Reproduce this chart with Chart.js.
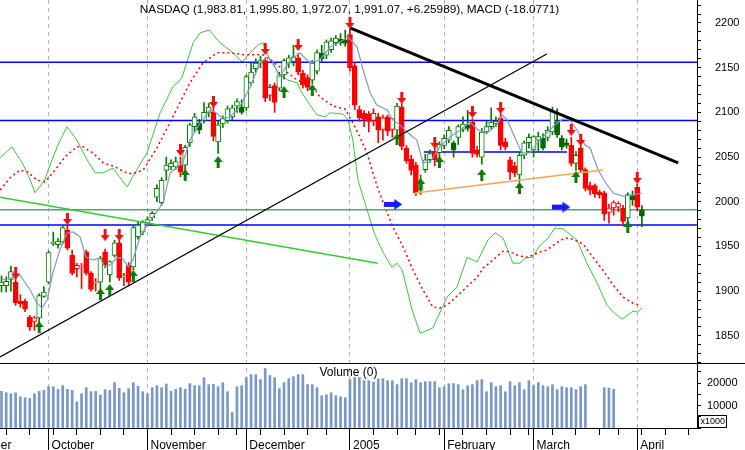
<!DOCTYPE html>
<html>
<head>
<meta charset="utf-8">
<title>NASDAQ</title>
<script src="https://cdn.jsdelivr.net/npm/chart.js@4/dist/chart.umd.min.js"></script>
<style>
  html, body { margin: 0; padding: 0; background: #fff; }
  #chart { display: block; }
</style>
</head>
<body>
<canvas id="chart" width="745" height="450"></canvas>
<script>
// x axis: one step per trading day, day 0 = Sep 17 2004
const monthLabels = ["September", "October", "November", "December", "2005", "February", "March", "April"];
const monthStarts = [-11, 10, 31, 52, 74, 94, 113, 135];
const weekStarts = [1, 6, 11, 16, 21, 26, 31, 36, 41, 46, 50, 55, 60, 65, 69, 74, 79, 84, 88, 93, 98, 103, 108, 112, 117, 122, 127, 131, 136, 141, 146];
const priceLabels = [1850, 1900, 1950, 2000, 2050, 2100, 2150, 2200];
const volumeLabels = [10000, 20000];

// daily candles
const opens = [
  1906, 1906, 1913, 1910, 1889, 1889, 1871, 1870, 1870, 1894,
  1910, 1953, 1952, 1955, 1968, 1940, 1929, 1928, 1944, 1920,
  1910.5, 1910, 1944, 1918, 1940, 1954, 1917, 1929, 1927, 1961,
  1966, 1976, 1982, 2005, 1999, 2035, 2039, 2039, 2041, 2041,
  2066, 2084, 2080, 2091, 2100, 2100, 2067, 2087, 2091, 2095,
  2107, 2100, 2105, 2133, 2149, 2155, 2158, 2128, 2130, 2127,
  2142, 2155, 2157, 2161, 2144, 2139, 2136, 2146, 2160, 2164,
  2170, 2178, 2178, 2177, 2187, 2152, 2103, 2099, 2098, 2099,
  2095, 2094, 2095, 2093, 2080, 2106, 2060, 2048, 2041, 2013,
  2036, 2047, 2056, 2055, 2063, 2069, 2058, 2072, 2081, 2082,
  2089, 2058, 2050, 2078, 2084, 2087, 2094, 2067, 2047, 2040,
  2030, 2052, 2066, 2058, 2069, 2060, 2072, 2078, 2075, 2061,
  2063, 2063, 2043, 2060, 2036, 2018, 2018, 2011, 2010, 1993,
  1999, 1998, 1993, 1982, 2002, 2016, 1983.81
];
const highs = [
  1917, 1916, 1928, 1916, 1896, 1891, 1873, 1872, 1897, 1905,
  1945, 1966, 1959, 1973, 1974, 1946, 1931, 1931, 1946, 1922,
  1914, 1939, 1947, 1934, 1957, 1957, 1920, 1932, 1973, 1977,
  1979, 1983, 1989, 2019, 2027, 2050, 2047, 2050, 2050, 2063,
  2088, 2099, 2092, 2111, 2110, 2106, 2090, 2096, 2107, 2108,
  2115, 2114, 2142, 2155, 2160, 2163, 2161, 2131, 2133, 2145,
  2160, 2164, 2175, 2166, 2147, 2142, 2158, 2170, 2175, 2181,
  2183, 2186, 2188, 2192, 2193, 2156, 2107, 2102, 2101, 2104,
  2099, 2097, 2097, 2093, 2110, 2110, 2063, 2052, 2044, 2030,
  2053, 2058, 2062, 2067, 2075, 2084, 2068, 2086, 2095, 2102,
  2093, 2062, 2082, 2090, 2105, 2095, 2099, 2071, 2050, 2044,
  2056, 2068, 2076, 2074, 2078, 2076, 2084, 2106, 2104, 2074,
  2070, 2072, 2056, 2063, 2038, 2022, 2020, 2013, 2012, 1997,
  2001, 2000, 1996, 2010, 2012, 2020, 1995.80
];
const lows = [
  1899, 1899, 1900, 1884, 1882, 1877, 1856, 1856, 1862, 1893,
  1908, 1951, 1948, 1953, 1946, 1918, 1916, 1903, 1918, 1900,
  1900, 1902, 1926, 1910, 1938, 1912, 1906, 1906, 1924, 1958,
  1963, 1974, 1979, 2000, 1996, 2024, 2036, 2036, 2028, 2033,
  2062, 2078, 2076, 2088, 2095, 2068, 2054, 2083, 2088, 2092,
  2100, 2098, 2102, 2130, 2145, 2150, 2112, 2113, 2100, 2124,
  2137, 2150, 2152, 2142, 2127, 2124, 2132, 2143, 2157, 2160,
  2167, 2175, 2175, 2174, 2146, 2103, 2090, 2084, 2078, 2085,
  2066, 2069, 2074, 2072, 2076, 2058, 2043, 2030, 2007, 2008,
  2033, 2044, 2040, 2047, 2059, 2066, 2050, 2064, 2078, 2079,
  2050, 2050, 2042, 2076, 2081, 2084, 2058, 2058, 2025, 2028,
  2022, 2048, 2060, 2050, 2055, 2058, 2068, 2075, 2072, 2058,
  2060, 2040, 2035, 2033, 2012, 2008, 2005, 2004, 1979, 1976,
  1985, 1989, 1974, 1976, 1996, 1990, 1972.07
];
const closes = [
  1910, 1911, 1922, 1887, 1886, 1880, 1860, 1866, 1895, 1899,
  1943, 1955, 1956, 1971, 1948, 1920, 1925, 1927, 1920, 1902,
  1909, 1937, 1929, 1933, 1954, 1915, 1916, 1910, 1971, 1974,
  1977, 1980, 1987, 2015, 2024, 2041, 2043, 2045, 2033, 2061,
  2086, 2095, 2088, 2100, 2106, 2073, 2086, 2093, 2104, 2105,
  2112, 2106, 2140, 2145, 2155, 2158, 2116, 2119, 2111, 2142,
  2158, 2161, 2162, 2145, 2131, 2128, 2155, 2167, 2166, 2179,
  2180, 2183, 2182, 2181, 2150, 2108, 2094, 2092, 2090, 2091,
  2080, 2081, 2079, 2081, 2107, 2062, 2046, 2035, 2010, 2022,
  2047, 2054, 2047, 2064, 2071, 2080, 2066, 2084, 2087, 2086,
  2054, 2053, 2078, 2084, 2089, 2090, 2063, 2061, 2033, 2032,
  2052, 2066, 2072, 2073, 2073, 2071, 2080, 2101, 2089, 2071,
  2066, 2043, 2052, 2036, 2015, 2013, 2009, 2008, 1986, 1988,
  1993, 1994, 1978, 2008, 2007, 1994, 1991.07
];
const lastChange = 6.25989;

// volume in thousands (missing days left empty)
const volumes = [
  16270, 15680, 15230, 15680, 13880, 13440, 13140, 15230, 16270, 16720,
  18360, 18360, 17170, 18810, 17170, 16720, 11650, 15230, 17920, 16120,
  16270, 14630, 17020, 16720, 20160, 17620, 15680, 17470, 20160, 18510,
  16120, 15230, 17920, 18810, 17920, 19560, 16270, 17170, 17920, 17170,
  19710, 18810, 18810, 22400, 19260, 19410, 18360, 20160, 16120, 6870,
  18360, 18810, 22400, 23740, 23740, 21500, 26430, 23290, 22400, 17470,
  20160, 21950, 22840, 23740, 23740, 19260, 19260, 17920, 14330, 14780,
  15680, 14330, 13880, 13440, 21500, 22400, 22400, 21050, 21050, 20300,
  21800, 21950, 21050, 21050, 19260, 21950, 21950, 20160, 21500, 20160,
  20600, 20600, 20600, 17920, 18360, 19710, 19710, 19260, 17020, 18810,
  19260, 21050, 21500, 16120, 20160, 18360, 18810, 16120, 20600, 18810,
  20160, 17020, 21050, 18810, 20160, 18810, 18360, 19260, 17020, 18360,
  17920, 17920, 17020, 18360, 19260, null, null, null, 17920, 17770,
  17170, null, null, null, null, null, null
];

// short moving average of the close, read as [day, price]
const avgLine = [
  [0, 1912.5], [1.8, 1914.7], [3.9, 1918.1], [6.1, 1901.3], [7.5, 1886.8], [8.6, 1881.2], [9.7, 1890.1],
  [10.9, 1920.3], [12.4, 1946.1], [13.9, 1965.1], [15.2, 1966.2], [16.7, 1960.6], [17.9, 1938.2],
  [19.4, 1934.9], [20.9, 1937.1], [22, 1927], [23, 1929.3], [24.5, 1937.1], [25.6, 1937.1], [26.9, 1927],
  [27.9, 1934.9], [29.4, 1960.6], [30.9, 1974], [32.2, 1983], [34.3, 1998.6], [35.8, 2032.2], [37.3, 2038.9],
  [38.5, 2043.4], [40, 2069.1], [42.2, 2088.1], [44.3, 2102.7], [45.3, 2100.4], [47, 2093.7], [48.5, 2094.8],
  [50.6, 2106], [52.8, 2128.4], [54.9, 2155.2], [56.4, 2161.9], [57.4, 2158.6], [59.1, 2139.6], [61.3, 2158.6],
  [63.4, 2166.4], [65.5, 2155.2], [67.6, 2158.6], [69.8, 2173.1], [71.9, 2178.7], [73.6, 2184.3], [75.5, 2173.1],
  [76.8, 2147.4], [78.3, 2121.7], [79.7, 2108.2], [81.9, 2102.6], [83.1, 2091.5], [84.6, 2086], [86.1, 2078],
  [88.2, 2069.1], [89.5, 2043.4], [91, 2044.5], [93.1, 2061.3], [95.2, 2072.5], [97.4, 2080.3], [99.5, 2089.2],
  [101.2, 2080.3], [103.1, 2076.9], [105.2, 2085.9], [106.3, 2097.1], [107.4, 2091.5], [108.6, 2076.9],
  [110.5, 2054.6], [112.2, 2054.6], [113.7, 2065.7], [115.8, 2076.9], [117.5, 2085.9], [119.2, 2092.6],
  [120.7, 2091.5], [122.2, 2080.3], [123.9, 2063.5], [125, 2060.1], [126.7, 2035.5], [128.2, 2022.1],
  [129.9, 2009.8], [132, 2006.4], [134.1, 2007.6], [136, 2009.8]
];

// MACD and its signal line, own hidden scale, read as [day, value]
const macdLine = [
  [-0.3, 19.5], [2.2, 22.3], [4.4, 18.3], [6.1, 14], [7.1, 10.8], [9.2, 14], [9.9, 16.5], [12, 22.8], [13.9, 27.3],
  [16, 24], [18.2, 19], [19.9, 15.8], [21.6, 15.8], [23.7, 17], [25.2, 14.5], [26.7, 12.3], [27.7, 14.5],
  [30.9, 20.8], [33.7, 30.8], [36.4, 37.3], [38.3, 39.5], [40.7, 48.3], [42.2, 50.8], [44.1, 51.5], [46.4, 48.3],
  [49.2, 45.8], [51.1, 43.5], [52.8, 45.8], [54.5, 47.8], [55.5, 48.3], [57, 44], [59.1, 40.3], [60.8, 39],
  [62.8, 38.3], [63.8, 35.8], [65.5, 32.8], [67, 30.3], [68.7, 29.8], [69.8, 30.8], [72.5, 30.5], [73.6, 29],
  [74.6, 24], [75.7, 14], [78.3, 4], [79.3, 0.3], [81, -4], [82.9, -7.8], [84, -6.8], [85.1, -8.5], [87.2, -18.5],
  [88.9, -24.3], [91.6, -23], [94.6, -15.3], [96.7, -12.8], [98.9, -5.3], [101, -6.5], [103.3, -1], [104.8, 0.8],
  [106.5, -0.5], [108.6, -6.8], [110.1, -6.8], [111.2, -5.5], [112.7, -5.3], [114.4, -2.3], [116.1, -0.5],
  [117.5, 2], [119.2, 1.8], [120.3, 0.8], [122.2, -1], [124.3, -6.8], [126.5, -11.8], [128.6, -17.3],
  [129.9, -19], [131.8, -20.8], [134.1, -18.8], [135, -19], [136, -18.0771]
];
const signalLine = [
  [-0.3, 11.5], [1.8, 14.5], [3.9, 16.5], [5.6, 16], [7.5, 14], [9.2, 13.5], [11.4, 16.5], [13.5, 19.8],
  [16, 22.3], [17.3, 22.3], [19.4, 20.8], [21.6, 18.3], [24.1, 17.3], [26.2, 16], [27.7, 15.5], [30.1, 16.5],
  [33, 22], [36.4, 29.8], [40, 38.3], [42.8, 43.3], [45.8, 45.8], [48.5, 45.8], [51.7, 45.3], [55.5, 45.3],
  [59.1, 42.3], [62.8, 39], [66.2, 37.3], [67.6, 34.8], [70.4, 32.5], [72.9, 31.8], [74.6, 28.3], [76.1, 24.8],
  [77.6, 20.8], [78.7, 16.5], [79.9, 12], [81.4, 7.3], [83.1, 2.3], [85.3, -2.8], [87.4, -8.5], [89.5, -13.5],
  [91.6, -17.8], [93.1, -18], [94.6, -17.3], [97.4, -14.3], [101, -10.3], [102.3, -8], [104.4, -6],
  [106.5, -3.8], [108, -4], [110.1, -5], [111.8, -5.3], [113.7, -4.3], [115.8, -3.5], [118.2, -1.5],
  [119.7, -0.5], [121.4, -0.8], [123.5, -2], [125.6, -5.3], [127.7, -8.5], [129.9, -12.3], [132, -15.3],
  [134.1, -16.8], [135.6, -17.3]
];

// drawn levels and trend lines, [day, price]
const levels = [2156, 2091, 1974];
const boxLevel = [[89.7, 2055.7], [120.1, 2055.7]];
const trendDown = [[74, 2194.4], [143.7, 2043.4]];
const trendUp = [[-0.32, 1826.4], [115.8, 2165.3]];
const fanLine = [[-0.32, 2005], [79.9, 1931.2]];
const orangeLine = [[87.8, 2009.8], [127.7, 2035.5]];

// signal arrows, [day, price]
const sellMarks = [[3, 1919.8], [14, 1980.7], [22, 1962.6], [25, 1962.8], [38, 2057.9], [45, 2111.6], [56, 2170.9], [63, 2175.4],
  [74, 2200], [85, 2116.1], [92, 2066], [100, 2100.4], [106, 2104.9], [121, 2080.3], [123, 2069.1], [135, 2026.6]];
const buyMarks = [[8, 1859.9], [21, 1896.8], [23, 1901.3], [28, 1917], [39, 2030], [46, 2044.5], [60, 2122.8], [66, 2125],
  [84, 2070.2], [89, 2019.9], [93, 2044.5], [102, 2030], [110, 2015.4], [122, 2027.7], [133, 1971.8]];
const pointMarks = [[83.2, 1997], [118.9, 1994]];

// ---- styling ----
Chart.defaults.font.family = '"Liberation Sans", Arial, sans-serif';
Chart.defaults.color = "#000";

const GREEN = "#008000";
const DARK_GREEN = "#006a00";
const RED = "#ff0000";

const last = closes.length - 1;
const days = closes.map((c, i) => i);
const pts = (list) => list.map(([x, y]) => ({ x, y }));

// colour from close vs open, hollow when the close is not below the previous close
const isUp = (i) => closes[i] >= opens[i];
const isHollow = (i) => i === 0 || closes[i] >= closes[i - 1];
const edgeColor = (i) => (isUp(i) ? (isHollow(i) ? GREEN : DARK_GREEN) : RED);
const bodyColor = (i) => (isHollow(i) ? "#ffffff" : edgeColor(i));

const makeArrow = (dir, color) => {
  const c = document.createElement("canvas");
  const g = c.getContext("2d");
  c.width = dir === "right" ? 18 : 9;
  c.height = dir === "right" ? 11 : 12;
  g.fillStyle = color;
  g.beginPath();
  if (dir === "down") {
    g.moveTo(3, 0); g.lineTo(6, 0); g.lineTo(6, 6); g.lineTo(9, 6);
    g.lineTo(4.5, 12); g.lineTo(0, 6); g.lineTo(3, 6);
  } else if (dir === "up") {
    g.moveTo(4.5, 0); g.lineTo(9, 6); g.lineTo(6, 6); g.lineTo(6, 12);
    g.lineTo(3, 12); g.lineTo(3, 6); g.lineTo(0, 6);
  } else {
    g.moveTo(0, 3); g.lineTo(10, 3); g.lineTo(10, 0); g.lineTo(18, 5.5);
    g.lineTo(10, 11); g.lineTo(10, 8); g.lineTo(0, 8);
  }
  g.closePath();
  g.fill();
  return c;
};

const fmt = (v) => v.toLocaleString("en-US", { minimumFractionDigits: 2, maximumFractionDigits: 2 });
const titleText = `NASDAQ (${fmt(opens[last])}, ${fmt(highs[last])}, ${fmt(lows[last])}, ${fmt(closes[last])}, +${lastChange}), MACD (${macdLine[macdLine.length - 1][1]})`;

const lineSet = (data, color, width, order, extra) => Object.assign({
  type: "line", data, borderColor: color, borderWidth: width, pointRadius: 0,
  tension: 0, xAxisID: "x", yAxisID: "y", order,
}, extra || {});

const markSet = (data, img) => ({
  type: "line", data: pts(data), showLine: false, pointStyle: img, pointRadius: 5,
  xAxisID: "x", yAxisID: "y", order: 1,
});

// tick positions every n units between a and b
const tickRange = (a, b, n) => {
  const out = [];
  for (let v = a; v <= b; v += n) out.push({ value: v });
  return out;
};

// titles, panel separator and the x1000 box
const overlay = {
  id: "overlay",
  afterDraw(chart) {
    const { ctx, chartArea } = chart;
    const vol = chart.scales.yVol;
    const mid = (chartArea.left + chartArea.right) / 2;
    ctx.save();
    ctx.strokeStyle = "#000";
    ctx.lineWidth = 1;
    ctx.beginPath();
    ctx.moveTo(0, Math.round(vol.top) + 0.5);
    ctx.lineTo(chart.width, Math.round(vol.top) + 0.5);
    ctx.stroke();

    ctx.fillStyle = "#000";
    ctx.textAlign = "center";
    ctx.textBaseline = "middle";
    ctx.font = '11.8px "Liberation Sans", Arial, sans-serif';
    ctx.fillText(titleText, mid + 1, 10);
    ctx.font = '12px "Liberation Sans", Arial, sans-serif';
    ctx.fillText("Volume (0)", mid, vol.top + 10);

    const bx = Math.round(chartArea.right) + 1.5;
    const by = Math.round(vol.bottom) - 12.5;
    ctx.strokeRect(bx, by, 28, 12);
    ctx.font = '9px "Liberation Sans", Arial, sans-serif';
    ctx.textAlign = "left";
    ctx.fillText("x1000", bx + 2, by + 6.5);
    ctx.restore();
  },
};

const xMin = -0.32;
const xMax = 147.7;

new Chart(document.getElementById("chart"), {
  type: "line",
  data: {
    datasets: [
      markSet(sellMarks, makeArrow("down", "#ee1111")),
      markSet(buyMarks, makeArrow("up", "#0b7a0b")),
      markSet(pointMarks, makeArrow("right", "#1a1aff")),
      lineSet(pts(trendDown), "#000", 3, 3),
      lineSet(pts(trendUp), "#000", 1.3, 3),
      lineSet(pts(orangeLine), "#ffa54f", 1.5, 3),
      lineSet(pts(fanLine), "#33cc33", 1.5, 4),
      lineSet(pts(avgLine), "#7f9cc4", 1.2, 5),
      {
        type: "bar",
        data: days.map((i) => ({ x: i, y: [Math.min(opens[i], closes[i]), Math.max(opens[i], closes[i])] })),
        backgroundColor: (c) => bodyColor(c.dataIndex),
        borderColor: (c) => edgeColor(c.dataIndex),
        borderWidth: 1,
        borderSkipped: false,
        minBarLength: 1,
        barThickness: 5,
        grouped: false,
        xAxisID: "x", yAxisID: "y", order: 6,
      },
      {
        type: "bar",
        data: days.map((i) => ({ x: i, y: [lows[i], highs[i]] })),
        backgroundColor: (c) => edgeColor(c.dataIndex),
        borderWidth: 0,
        barThickness: 1,
        grouped: false,
        xAxisID: "x", yAxisID: "y", order: 7,
      },
      {
        type: "bar",
        data: days.filter((i) => volumes[i] !== null).map((i) => ({ x: i, y: volumes[i] })),
        backgroundColor: "#7898c8",
        borderWidth: 0,
        barThickness: 2,
        grouped: false,
        xAxisID: "x", yAxisID: "yVol", order: 8,
      },
      lineSet([{ x: xMin, y: closes[last] }, { x: xMax, y: closes[last] }], "#55a077", 1.3, 9),
      lineSet(pts(boxLevel), "#0000ff", 1.5, 9),
      ...levels.map((v) => lineSet([{ x: xMin, y: v }, { x: xMax, y: v }], "#0000ff", 1.5, 9)),
      lineSet(pts(signalLine), "#ff0000", 1.5, 10, { yAxisID: "yM", borderDash: [2, 3] }),
      lineSet(pts(macdLine), "#33cc33", 1, 11, { yAxisID: "yM" }),
    ],
  },
  options: {
    responsive: false,
    animation: false,
    events: [],
    devicePixelRatio: 1,
    layout: { padding: 0, autoPadding: false },
    plugins: { legend: { display: false }, tooltip: { enabled: false }, title: { display: false } },
    scales: {
      xw: {
        type: "linear", position: "bottom", min: xMin, max: xMax, offset: false,
        afterBuildTicks: (s) => { s.ticks = weekStarts.map((v) => ({ value: v })); },
        afterFit: (s) => { s.height = 0; s.paddingLeft = 0; s.paddingRight = 0; },
        grid: { drawOnChartArea: false, tickLength: 7, tickColor: "#000", offset: false },
        border: { display: false },
        ticks: { display: false },
      },
      x: {
        type: "linear", position: "bottom", min: xMin, max: xMax, offset: false,
        afterBuildTicks: (s) => { s.ticks = monthStarts.map((v) => ({ value: v })); },
        afterFit: (s) => { s.height = 22; s.paddingLeft = 0; s.paddingRight = 0; },
        grid: { color: "#b4b4b4", tickColor: "#000", tickLength: 22, offset: false },
        border: { display: true, color: "#000", width: 1, dash: [4, 4] },
        ticks: {
          autoSkip: false, maxRotation: 0, align: "start", labelOffset: 3, padding: -12,
          font: { size: 12 },
          callback: (v, i) => monthLabels[i],
        },
      },
      y: {
        type: "linear", position: "right", stack: "panes", stackWeight: 363,
        min: 1819.6, max: 2225.7,
        afterBuildTicks: (s) => { s.ticks = tickRange(1820, 2220, 10); },
        afterFit: (s) => { s.width = 48; s.paddingTop = 0; s.paddingBottom = 0; },
        grid: { drawOnChartArea: false, tickLength: 4, tickColor: "#000" },
        border: { display: true, color: "#000" },
        ticks: {
          autoSkip: false, padding: 14, font: { size: 11 },
          callback: (v) => (priceLabels.includes(v) ? String(v) : ""),
        },
      },
      yVol: {
        type: "linear", position: "right", stack: "panes", stackWeight: 65,
        min: 0, max: 28889,
        afterBuildTicks: (s) => { s.ticks = tickRange(0, 25000, 5000); },
        afterFit: (s) => { s.width = 48; s.paddingTop = 0; s.paddingBottom = 0; },
        grid: { drawOnChartArea: false, tickLength: 4, tickColor: "#000" },
        border: { display: true, color: "#000" },
        ticks: {
          autoSkip: false, padding: 6, font: { size: 11 },
          callback: (v) => (volumeLabels.includes(v) ? String(v) : ""),
        },
      },
      yM: {
        type: "linear", position: "left", display: false, min: -48, max: 59,
        afterFit: (s) => { s.width = 0; s.paddingTop = 0; s.paddingBottom = 0; },
      },
    },
  },
  plugins: [overlay],
});
</script>
</body>
</html>
